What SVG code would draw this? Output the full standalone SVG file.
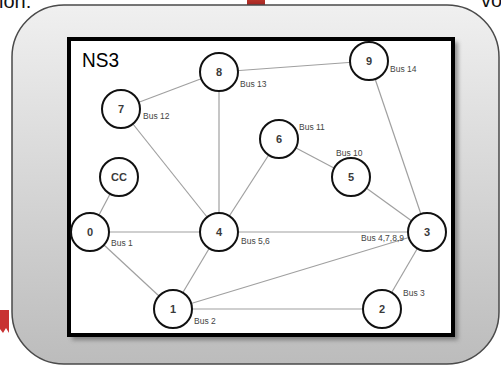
<svg xmlns="http://www.w3.org/2000/svg" width="501" height="367" viewBox="0 0 501 367">
  <defs>
    <linearGradient id="bg" x1="0" y1="0" x2="0" y2="1">
      <stop offset="0" stop-color="#f0f0f0"/>
      <stop offset="1" stop-color="#bcbcbc"/>
    </linearGradient>
    <linearGradient id="red" x1="0" y1="0" x2="0" y2="1">
      <stop offset="0" stop-color="#c0392b"/>
      <stop offset="1" stop-color="#9e2222"/>
    </linearGradient>
    <filter id="sh" x="-10%" y="-10%" width="120%" height="120%">
      <feGaussianBlur stdDeviation="2"/>
    </filter>
    <style>
      .edge { stroke: #a0a0a0; stroke-width: 1.2; fill: none; }
      .node circle { fill: #ffffff; stroke: #111111; stroke-width: 2; }
      .node text { font-family: "Liberation Sans", Arial, sans-serif; font-size: 11px; font-weight: bold; fill: #3a3a3a; text-anchor: middle; }
      .bus { font-family: "Liberation Sans", Arial, sans-serif; font-size: 8.5px; fill: #444444; }
      .big { font-family: "Liberation Sans", Arial, sans-serif; font-size: 20px; fill: #111111; }
    </style>
  </defs>

  <!-- background fragments -->
  <rect x="0" y="0" width="501" height="367" fill="#ffffff"/>
  <text class="big" x="-1" y="8">ion:</text>
  <text class="big" x="481" y="7">vo</text>
  <rect x="247" y="-2" width="18" height="8" fill="url(#red)"/>
  <polygon points="0,310 9,310 9,333 6,328 3,333 0,329" fill="#c83232"/>

  <!-- outer rounded panel -->
  <rect x="12" y="5" width="487" height="359" rx="52" ry="52" fill="url(#bg)" stroke="#4a4a4a" stroke-width="1.5"/>

  <!-- inner frame -->
  <rect x="72" y="42" width="386" height="298" fill="#555555" opacity="0.6" filter="url(#sh)"/>
  <rect x="69" y="39" width="384" height="296" fill="#ffffff" stroke="#000000" stroke-width="4"/>
  <text x="82" y="67" font-family="Liberation Sans, Arial, sans-serif" font-size="21" fill="#000000" textLength="37" lengthAdjust="spacingAndGlyphs">NS3</text>

  <!-- connectors -->
  <g id="connectors">
    <line class="edge" x1="121" y1="109" x2="219" y2="72"/>
    <line class="edge" x1="219" y1="72" x2="369" y2="61"/>
    <line class="edge" x1="219" y1="72" x2="219" y2="232"/>
    <line class="edge" x1="121" y1="109" x2="219" y2="232"/>
    <line class="edge" x1="369" y1="61" x2="427" y2="232"/>
    <line class="edge" x1="279" y1="139" x2="219" y2="232"/>
    <line class="edge" x1="279" y1="139" x2="351" y2="177"/>
    <line class="edge" x1="351" y1="177" x2="427" y2="232"/>
    <line class="edge" x1="119" y1="177" x2="90" y2="232"/>
    <line class="edge" x1="90" y1="232" x2="219" y2="232"/>
    <line class="edge" x1="219" y1="232" x2="427" y2="232"/>
    <line class="edge" x1="90" y1="232" x2="173" y2="309"/>
    <line class="edge" x1="219" y1="232" x2="173" y2="309"/>
    <line class="edge" x1="173" y1="309" x2="427" y2="232"/>
    <line class="edge" x1="173" y1="309" x2="382" y2="309"/>
    <line class="edge" x1="382" y1="309" x2="427" y2="232"/>
  </g>

  <!-- nodes -->
  <g id="node-8" class="node"><circle cx="219" cy="72" r="19"/><text x="219" y="76">8</text></g>
  <g id="node-7" class="node"><circle cx="121" cy="109" r="19"/><text x="121" y="113">7</text></g>
  <g id="node-9" class="node"><circle cx="369" cy="61" r="19"/><text x="369" y="65">9</text></g>
  <g id="node-CC" class="node"><circle cx="119" cy="177" r="19"/><text x="119" y="181">CC</text></g>
  <g id="node-0" class="node"><circle cx="90" cy="232" r="19"/><text x="90" y="236">0</text></g>
  <g id="node-4" class="node"><circle cx="219" cy="232" r="19"/><text x="219" y="236">4</text></g>
  <g id="node-6" class="node"><circle cx="279" cy="139" r="19"/><text x="279" y="143">6</text></g>
  <g id="node-5" class="node"><circle cx="351" cy="177" r="19"/><text x="351" y="181">5</text></g>
  <g id="node-3" class="node"><circle cx="427" cy="232" r="19"/><text x="427" y="236">3</text></g>
  <g id="node-1" class="node"><circle cx="173" cy="309" r="19"/><text x="173" y="313">1</text></g>
  <g id="node-2" class="node"><circle cx="382" cy="309" r="19"/><text x="382" y="313">2</text></g>

  <!-- bus labels -->
  <g id="bus-labels">
    <text class="bus" x="240" y="87">Bus 13</text>
    <text class="bus" x="143" y="119">Bus 12</text>
    <text class="bus" x="390" y="72">Bus 14</text>
    <text class="bus" x="299" y="130">Bus 11</text>
    <text class="bus" x="336" y="156">Bus 10</text>
    <text class="bus" x="111" y="246">Bus 1</text>
    <text class="bus" x="241" y="244">Bus 5,6</text>
    <text class="bus" x="361" y="241">Bus 4,7,8,9</text>
    <text class="bus" x="194" y="324">Bus 2</text>
    <text class="bus" x="403" y="296">Bus 3</text>
  </g>
</svg>
